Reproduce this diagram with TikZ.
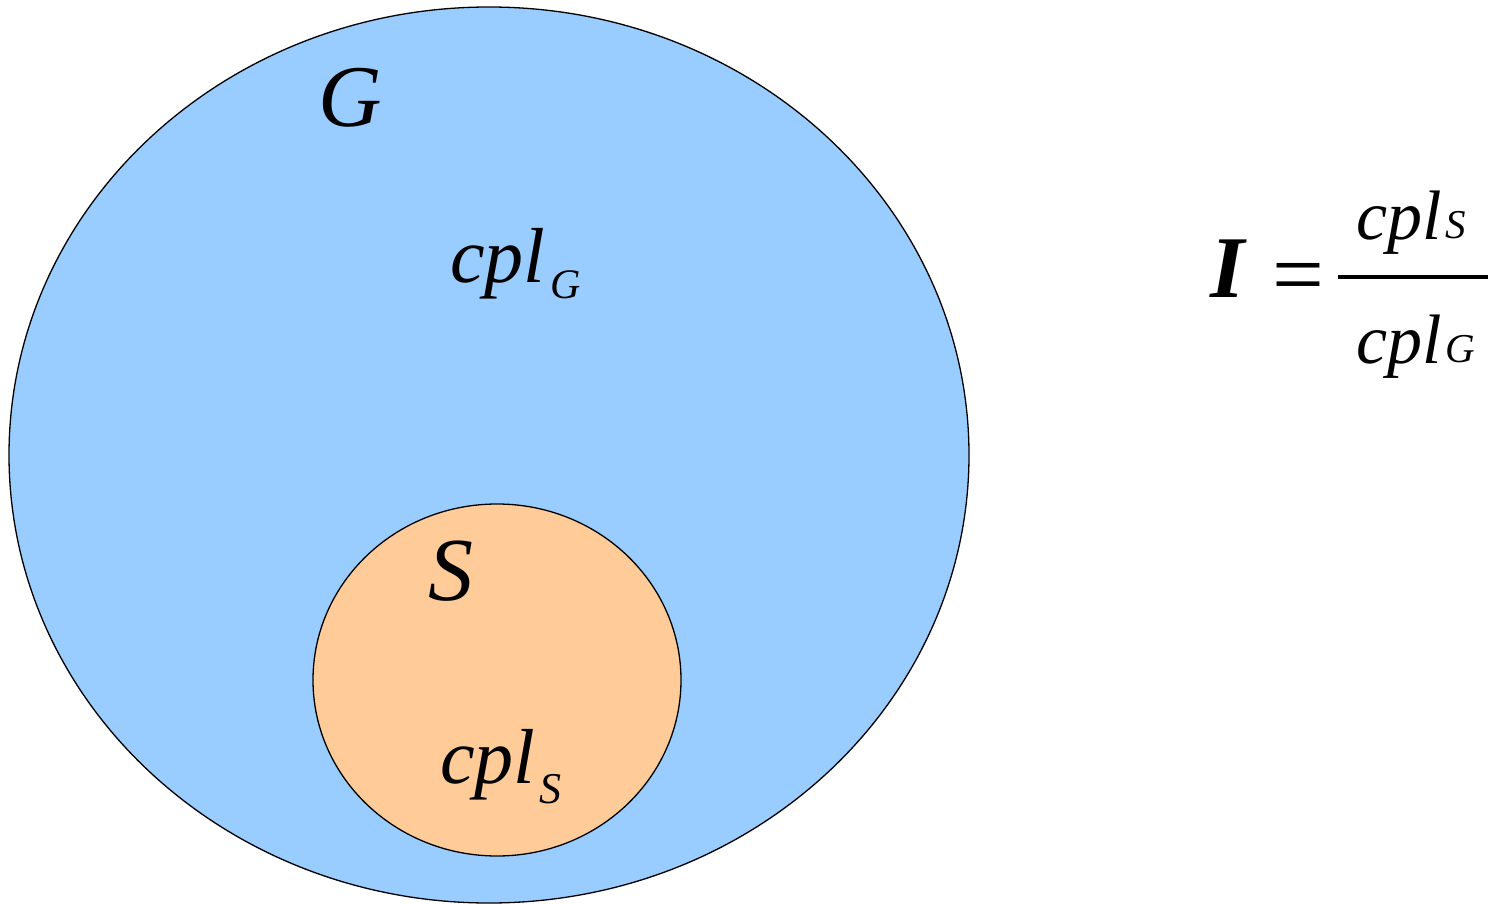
\documentclass[tikz,border=0pt]{standalone}
\usepackage{fontspec}
\setmainfont{Liberation Serif}
\tikzset{
  setG/.style={draw=black, line width=1.3pt, fill=gblue},
  setS/.style={draw=black, line width=1.3pt, fill=sorange},
  lbl/.style={inner sep=0pt, anchor=base west, font=\itshape},
}
\definecolor{gblue}{HTML}{99CCFF}
\definecolor{sorange}{HTML}{FFCC99}
\begin{document}
\begin{tikzpicture}[x=1pt,y=-1pt]
\useasboundingbox (0,0) rectangle (1494,904);
% sets
\path[setG] (489,455) ellipse [x radius=480, y radius=448];
\path[setS] (497,680) ellipse [x radius=184, y radius=176];
% labels
\node[lbl, font=\itshape\fontsize{88}{88}\selectfont] (gl) at (318,127) {G};
\node[lbl, font=\itshape\fontsize{78}{78}\selectfont] (cplg) at (450,282) {cpl};
\node[lbl, font=\itshape\fontsize{42}{42}\selectfont] (gsub) at (550,298) {G};
\node[lbl, font=\itshape\fontsize{90}{90}\selectfont] (sl) at (428,600) {S};
\node[lbl, font=\itshape\fontsize{78}{78}\selectfont] (cpls) at (440,783) {cpl};
\node[lbl, font=\itshape\fontsize{44}{44}\selectfont] (ssub) at (539,803) {S};
% formula
\node[lbl, font=\bfseries\itshape\fontsize{88}{88}\selectfont] (I) at (1210,297) {I};
\node[lbl, font=\fontsize{92}{92}\selectfont] (eq) at (1272,305) {=};
\coordinate (fl) at (1338,277);
\coordinate (fr) at (1488,277);
\draw[line width=4pt] (fl) -- (fr);
\node[lbl, font=\itshape\fontsize{70}{70}\selectfont] (num) at (1356,240) {cpl};
\node[lbl, font=\itshape\fontsize{41}{41}\selectfont] (numsub) at (1445,239) {S};
\node[lbl, font=\itshape\fontsize{70}{70}\selectfont] (den) at (1356,363) {cpl};
\node[lbl, font=\itshape\fontsize{41}{41}\selectfont] (densub) at (1445,362) {G};
\end{tikzpicture}
\end{document}
